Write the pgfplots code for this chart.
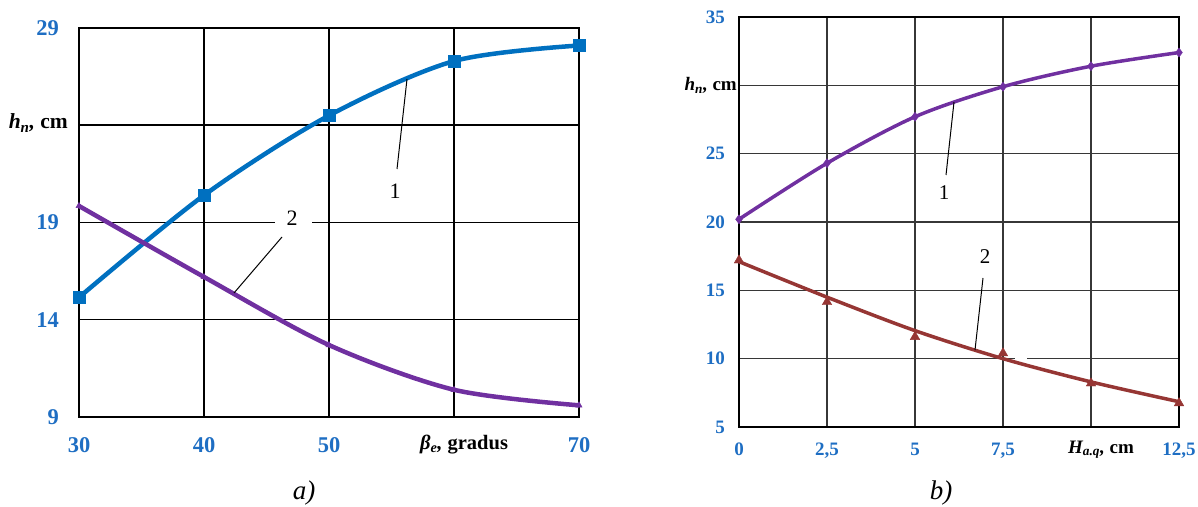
\documentclass[border=0pt]{standalone}
\usepackage{pgfplots}
\pgfplotsset{compat=1.18}
\usepackage{fontspec}
\setmainfont{Liberation Serif}
\definecolor{tickblue}{RGB}{30,110,195}
\definecolor{lineblue}{RGB}{0,112,192}
\definecolor{linepurple}{RGB}{112,48,160}
\definecolor{linebrown}{RGB}{150,54,52}
\definecolor{gridgray}{RGB}{55,55,55}
\newcommand{\fs}[1]{\fontsize{#1}{#1}\selectfont}
\begin{document}
\begin{tikzpicture}
\useasboundingbox (0pt,0pt) rectangle (1198pt,506pt);
% ---------------- chart a ----------------
\begin{axis}[
  at={(79pt,89pt)}, anchor=south west, scale only axis,
  width=500pt, height=389pt,
  xmin=30, xmax=70, ymin=9, ymax=29,
  xtick={30,40,50,60,70}, xticklabels={30,40,50,,70},
  ytick={9,14,19,24,29}, yticklabels={9,14,19,,29},
  grid=major, grid style={black, line width=1.5pt},
  axis line style={black, line width=1.5pt},
  tick style={draw=none},
  xticklabel style={font=\bfseries\fs{22.5}, text=tickblue, inner sep=0pt, anchor=base, yshift=-35pt},
  yticklabel style={font=\bfseries\fs{22.5}, text=tickblue, inner sep=0pt, anchor=east, xshift=-20pt},
  clip=false,
]
\fill[white] (axis cs:45.7,18.8) rectangle (axis cs:48.6,19.2);
\addplot[lineblue, line width=4.5pt, smooth, mark=square*, mark size=6pt, mark options={line width=0.5pt}]
  coordinates {(30,15.15) (40,20.4) (50,24.5) (60,27.3) (70,28.1)};
\addplot[linepurple, line width=4.5pt, smooth, mark=triangle*, mark size=3.5pt, mark options={line width=0.5pt}]
  coordinates {(30,19.85) (40,16.2) (50,12.7) (60,10.4) (70,9.6)};
\end{axis}
\node[font=\bfseries\fs{20.5}, anchor=base] at (464pt,57pt) {{\itshape β\textsubscript{e},} gradus};
\node[font=\bfseries\fs{21.5}, anchor=base east, inner sep=0pt] at (68pt,377pt) {{\itshape h\textsubscript{n},} cm};
\draw[black, line width=1pt] (397pt,337pt) -- (407pt,427pt);
\node[font=\fs{22}] at (395pt,315pt) {1};
\draw[black, line width=1pt] (282pt,269pt) -- (234pt,213pt);
\node[font=\fs{22}] at (292pt,288pt) {2};
\node[font=\itshape\fs{27}, anchor=base] at (304pt,7pt) {a)};
% ---------------- chart b ----------------
\begin{axis}[
  at={(739pt,79pt)}, anchor=south west, scale only axis,
  width=440pt, height=410pt,
  xmin=0, xmax=12.5, ymin=5, ymax=35,
  xtick={0,2.5,5,7.5,10,12.5}, xticklabels={0,{2,5},5,{7,5},,{12,5}},
  ytick={5,10,15,20,25,30,35}, yticklabels={5,10,15,20,25,,35},
  grid=major, grid style={gridgray, line width=1.3pt},
  axis line style={black, line width=1.4pt},
  tick style={draw=none},
  xticklabel style={font=\bfseries\fs{19}, text=tickblue, inner sep=0pt, anchor=base, yshift=-28pt},
  yticklabel style={font=\bfseries\fs{19}, text=tickblue, inner sep=0pt, anchor=east, xshift=-14pt},
  clip=false,
]
\fill[white] (axis cs:7.84,9.8) rectangle (axis cs:8.18,10.2);
\addplot[linepurple, line width=3.5pt, smooth, mark=diamond*, mark size=4.5pt, mark options={line width=0.5pt}]
  coordinates {(0,20.2) (2.5,24.3) (5,27.7) (7.5,29.9) (10,31.4) (12.5,32.4)};
\addplot[linebrown, line width=3.5pt, smooth]
  coordinates {(0,17.1) (2.5,14.5) (5,12.05) (7.5,10.0) (10,8.3) (12.5,6.85)};
\addplot[linebrown, only marks, mark=triangle*, mark size=5.5pt]
  coordinates {(0,17.2) (2.5,14.15) (5,11.6) (7.5,10.4) (10,8.2) (12.5,6.75)};
\end{axis}
\node[font=\bfseries\fs{19}, anchor=base west, inner sep=0pt] at (1068pt,53pt) {{\itshape H\textsubscript{a.q},} cm};
\node[font=\bfseries\fs{19}, anchor=base east, inner sep=0pt] at (737pt,415pt) {{\itshape h\textsubscript{n},} cm};
\draw[black, line width=1pt] (946pt,331pt) -- (954pt,404pt);
\node[font=\fs{21}] at (944pt,313pt) {1};
\draw[black, line width=1pt] (983pt,228pt) -- (975pt,156pt);
\node[font=\fs{21}] at (985pt,249pt) {2};
\node[font=\itshape\fs{27}, anchor=base] at (941pt,7pt) {b)};
\end{tikzpicture}
\end{document}
